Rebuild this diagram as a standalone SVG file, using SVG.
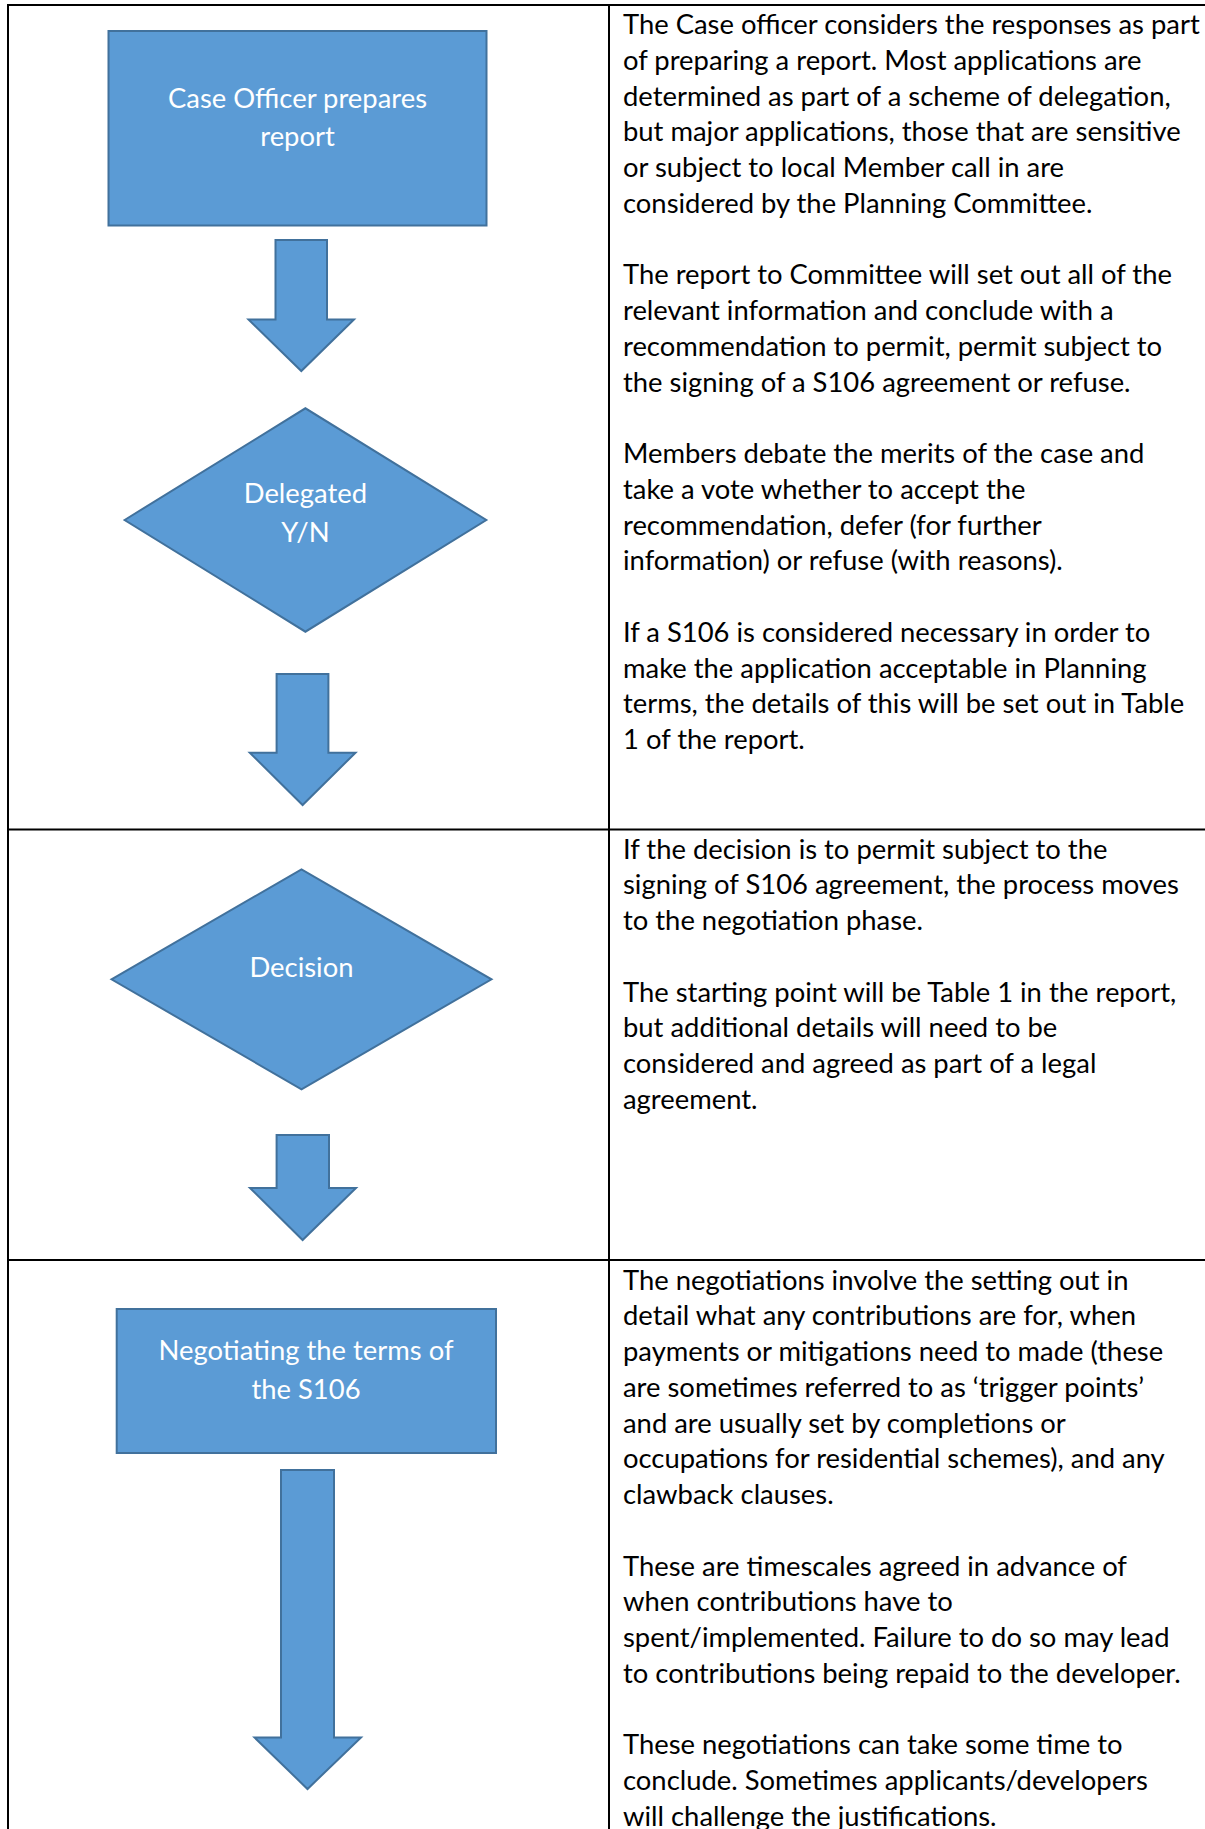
<svg xmlns="http://www.w3.org/2000/svg" width="1205" height="1829" viewBox="0 0 1205 1829">
<style>
.grid{stroke:#000;stroke-width:2;fill:none}
.shape{fill:#5B9BD5;stroke:#41719C;stroke-width:2;stroke-linejoin:miter}
.lbl{font-family:Lato,"Liberation Sans",sans-serif;font-size:27.4px;fill:#fff;text-anchor:middle}
.body{font-family:Lato,"Liberation Sans",sans-serif;font-size:27.4px;fill:#000}
</style>
<rect width="1205" height="1829" fill="#fff"/>
<g id="table">
<line class="grid" x1="8" y1="5" x2="1205" y2="5"/>
<line class="grid" x1="8" y1="4" x2="8" y2="1829"/>
<line class="grid" x1="609" y1="4" x2="609" y2="1829"/>
<line class="grid" x1="8" y1="829.5" x2="1205" y2="829.5"/>
<line class="grid" x1="8" y1="1260" x2="1205" y2="1260"/>
</g>
<g id="node-case-officer">
<rect class="shape" x="108.5" y="31" width="378" height="194.5"/>
<text class="lbl" x="297.5" y="107.5">Case Officer prepares</text>
<text class="lbl" x="297.5" y="145.5">report</text>
</g>
<g id="node-delegated">
<polygon class="shape" points="124.6,520 305.4,408.3 486.3,520 305.4,631.7"/>
<text class="lbl" x="305.4" y="503">Delegated</text>
<text class="lbl" x="305.4" y="541.5">Y/N</text>
</g>
<g id="node-decision">
<polygon class="shape" points="111.5,979.3 301.5,869.3 491.5,979.3 301.5,1089.3"/>
<text class="lbl" x="301.5" y="977">Decision</text>
</g>
<g id="node-negotiating">
<rect class="shape" x="116.7" y="1309" width="379.3" height="144"/>
<text class="lbl" x="306" y="1360">Negotiating the terms of</text>
<text class="lbl" x="306" y="1398.5">the S106</text>
</g>
<g id="connectors">
<polygon class="shape" points="275.5,240 327,240 327,319.5 354,319.5 301.3,371 248.5,319.5 275.5,319.5"/>
<polygon class="shape" points="276.6,674 328.4,674 328.4,752.7 355.5,752.7 302.6,805 249.8,752.7 276.6,752.7"/>
<polygon class="shape" points="276.6,1135 329,1135 329,1188 356,1188 302.6,1240 250,1188 276.6,1188"/>
<polygon class="shape" points="281,1470 334,1470 334,1737.5 361,1737.5 307.5,1789 254.5,1737.5 281,1737.5"/>
</g>
<g id="text-row1">
<text class="body" x="623" y="34">The Case officer considers the responses as part</text>
<text class="body" x="623" y="69.75">of preparing a report. Most applications are</text>
<text class="body" x="623" y="105.5">determined as part of a scheme of delegation,</text>
<text class="body" x="623" y="141.25">but major applications, those that are sensitive</text>
<text class="body" x="623" y="177">or subject to local Member call in are</text>
<text class="body" x="623" y="212.75">considered by the Planning Committee.</text>
<text class="body" x="623" y="284.25">The report to Committee will set out all of the</text>
<text class="body" x="623" y="320">relevant information and conclude with a</text>
<text class="body" x="623" y="355.75">recommendation to permit, permit subject to</text>
<text class="body" x="623" y="391.5">the signing of a S106 agreement or refuse.</text>
<text class="body" x="623" y="463">Members debate the merits of the case and</text>
<text class="body" x="623" y="498.75">take a vote whether to accept the</text>
<text class="body" x="623" y="534.5">recommendation, defer (for further</text>
<text class="body" x="623" y="570.25">information) or refuse (with reasons).</text>
<text class="body" x="623" y="641.75">If a S106 is considered necessary in order to</text>
<text class="body" x="623" y="677.5">make the application acceptable in Planning</text>
<text class="body" x="623" y="713.25">terms, the details of this will be set out in Table</text>
<text class="body" x="623" y="749">1 of the report.</text>
</g>
<g id="text-row2">
<text class="body" x="623" y="858.5">If the decision is to permit subject to the</text>
<text class="body" x="623" y="894.25">signing of S106 agreement, the process moves</text>
<text class="body" x="623" y="930">to the negotiation phase.</text>
<text class="body" x="623" y="1001.5">The starting point will be Table 1 in the report,</text>
<text class="body" x="623" y="1037.25">but additional details will need to be</text>
<text class="body" x="623" y="1073">considered and agreed as part of a legal</text>
<text class="body" x="623" y="1108.75">agreement.</text>
</g>
<g id="text-row3">
<text class="body" x="623" y="1289.5">The negotiations involve the setting out in</text>
<text class="body" x="623" y="1325.25">detail what any contributions are for, when</text>
<text class="body" x="623" y="1361">payments or mitigations need to made (these</text>
<text class="body" x="623" y="1396.75">are sometimes referred to as ‘trigger points’</text>
<text class="body" x="623" y="1432.5">and are usually set by completions or</text>
<text class="body" x="623" y="1468.25">occupations for residential schemes), and any</text>
<text class="body" x="623" y="1504">clawback clauses.</text>
<text class="body" x="623" y="1575.5">These are timescales agreed in advance of</text>
<text class="body" x="623" y="1611.25">when contributions have to</text>
<text class="body" x="623" y="1647">spent/implemented. Failure to do so may lead</text>
<text class="body" x="623" y="1682.75">to contributions being repaid to the developer.</text>
<text class="body" x="623" y="1754.25">These negotiations can take some time to</text>
<text class="body" x="623" y="1790">conclude. Sometimes applicants/developers</text>
<text class="body" x="623" y="1825.75">will challenge the justifications.</text>
</g>
</svg>
